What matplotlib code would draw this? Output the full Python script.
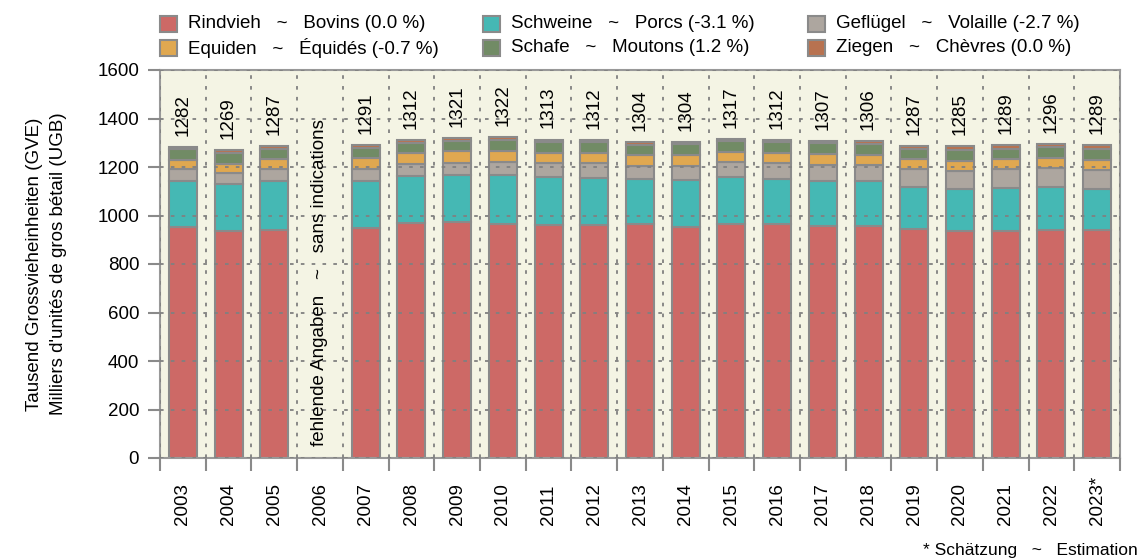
import numpy as np
import matplotlib.pyplot as plt
from matplotlib.patches import Rectangle

plt.rcParams['font.family'] = ['Liberation Sans', 'DejaVu Sans']

years = ['2003', '2004', '2005', '2006', '2007', '2008', '2009', '2010', '2011', '2012', '2013',
         '2014', '2015', '2016', '2017', '2018', '2019', '2020', '2021', '2022', '2023*']
nan = np.nan
rindvieh = [954, 935, 939, nan, 947, 968, 972, 966, 962, 962, 964, 954, 966, 964, 955, 955, 944, 936, 936, 939, 939]
schweine = [189, 195, 205, nan, 197, 196, 196, 200, 198, 194, 185, 192, 194, 187, 187, 186, 175, 173, 176, 178, 172]
gefluegel = [49, 47, 48, nan, 48, 50, 50, 53, 55, 61, 55, 58, 59, 64, 66, 67, 71, 76, 78, 79, 77]
equiden = [37, 35, 40, nan, 44, 43, 47, 46, 44, 41, 46, 47, 44, 44, 44, 42, 42, 41, 42, 41, 41]
schafe = [45, 47, 42, nan, 44, 43, 44, 46, 43, 44, 42, 44, 43, 44, 46, 45, 44, 44, 44, 44, 45]
ziegen = [8, 10, 13, nan, 11, 12, 12, 11, 11, 10, 12, 9, 11, 9, 9, 11, 11, 15, 13, 15, 15]

series = [
    ('Rindvieh   ~   Bovins (0.0 %)', rindvieh, '#CD6966'),
    ('Schweine   ~   Porcs (-3.1 %)', schweine, '#45B8B4'),
    ('Geflügel   ~   Volaille (-2.7 %)', gefluegel, '#ADA69F'),
    ('Equiden   ~   Équidés (-0.7 %)', equiden, '#E0A850'),
    ('Schafe   ~   Moutons (1.2 %)', schafe, '#718B65'),
    ('Ziegen   ~   Chèvres (0.0 %)', ziegen, '#B87250'),
]

fs = 13.5
edge = '#8A8A8A'
fig = plt.figure(figsize=(11.4, 5.6), dpi=100)
ax = fig.add_axes([160 / 1140, 1 - 458 / 560, 960 / 1140, 388 / 560])
ax.set_facecolor('#F4F4E4')

x = np.arange(len(years))
bottom = np.zeros(len(years))
for name, vals, col in series:
    v = np.array(vals, dtype=float)
    ax.bar(x, v, 0.61, bottom=bottom, color=col, edgecolor=edge, linewidth=1.5, zorder=2)
    bottom = bottom + np.nan_to_num(v)

for i, tot in enumerate(bottom):
    if tot > 0:
        ax.annotate('%d' % round(tot), (x[i], tot), xytext=(0, 8), textcoords='offset points',
                    rotation=90, ha='center', va='bottom', fontsize=fs)

ax.text(3, 50, 'fehlende Angaben   ~   sans indications', rotation=90,
        ha='center', va='bottom', fontsize=fs)

ax.set_xlim(-0.5, len(years) - 0.5)
ax.set_ylim(0, 1600)
ax.set_yticks(np.arange(0, 1601, 200))
ax.set_xticks(np.arange(-0.5, len(years), 1.0))
ax.set_xticklabels([])
ax.set_xticks(x, minor=True)
ax.set_xticklabels(years, minor=True, rotation=90, va='bottom', ha='center')
ax.tick_params(axis='x', which='major', length=9, width=1.5, color=edge, direction='out')
ax.tick_params(axis='x', which='minor', length=0, pad=48, labelsize=fs)
ax.tick_params(axis='y', length=9, width=1.5, color=edge, labelsize=fs, pad=6)
ax.grid(True, which='major', color='#808080', linestyle=(0, (2, 4)), linewidth=1.3, zorder=3)
ax.set_axisbelow(False)
for s in ax.spines.values():
    s.set_color('#999999')
    s.set_linewidth(1.5)

ax.set_ylabel("Tausend Grossvieheinheiten (GVE)\nMilliers d'unités de gros bétail (UGB)",
              fontsize=fs, labelpad=22, linespacing=1.55)

# legend
cols = [160, 483, 808]
rows = [24, 48]
order = [0, 3, 1, 4, 2, 5]
for k, idx in enumerate(order):
    name, vals, col = series[idx]
    px = cols[k // 2]
    py = rows[k % 2]
    fig.patches.append(Rectangle((px / 1140, 1 - (py + 8) / 560), 17 / 1140, 16 / 560,
                                 transform=fig.transFigure, facecolor=col, edgecolor=edge,
                                 linewidth=1.5))
    fig.text((px + 28) / 1140, 1 - py / 560, name, fontsize=fs, va='center', ha='left')

fig.text(1138 / 1140, 1 - 551 / 560, '* Schätzung   ~   Estimation', fontsize=12.5,
         ha='right', va='center')

fig.savefig('out.png', dpi=100)
